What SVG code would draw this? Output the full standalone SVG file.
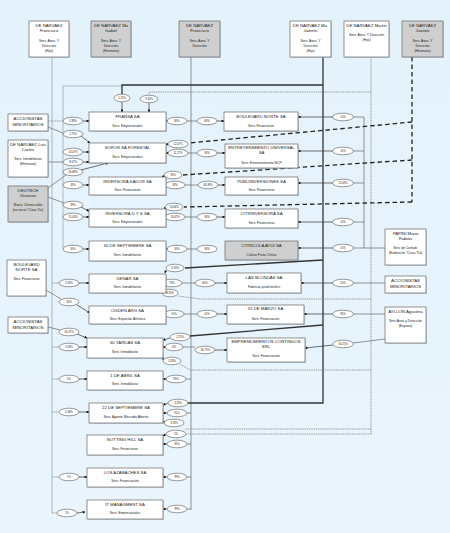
<svg xmlns="http://www.w3.org/2000/svg" width="450" height="533" viewBox="0 0 450 533">
<defs>
<marker id="ah" viewBox="0 0 10 10" refX="9" refY="5" markerWidth="4" markerHeight="4" orient="auto"><path d="M0,0 L10,5 L0,10 z" fill="#111"/></marker>
<linearGradient id="bg" x1="0" y1="0" x2="0" y2="1"><stop offset="0" stop-color="#e4f2fc"/><stop offset="1" stop-color="#eaf5fd"/></linearGradient>
</defs>
<style>
.b{fill:#fff;stroke:#666;stroke-width:0.7}
.g{fill:#cfcfcf;stroke:#666;stroke-width:0.7}
.sh{fill:#9fb3c6;opacity:0.5}
text{font-family:"Liberation Sans",Arial,sans-serif;fill:#222;text-anchor:middle}
.t{font-size:4.3px}
.s{font-size:3.4px}
.p{font-size:2.7px}
.e{fill:#fff;stroke:#555;stroke-width:0.6}
.thin{stroke:#777;stroke-width:0.8;fill:none}
.lt{stroke:#9aa8b8;stroke-width:0.8;fill:none}
.thick{stroke:#333;stroke-width:1.3;fill:none}
.dot{stroke:#777;stroke-width:0.8;stroke-dasharray:1 0.8;fill:none}
.dash{stroke:#222;stroke-width:1.3;stroke-dasharray:4.5 3;fill:none}
.arr{stroke:#333;stroke-width:0.7;fill:none;marker-end:url(#ah)}
</style>
<rect width="450" height="533" fill="url(#bg)"/>

<g id="connectors">
<path class="lt" d="M52,57 V513"/>
<path class="lt" d="M122,86 H63 V249"/>
<path class="thin" d="M191,57 V510"/>
<path class="dot" d="M371,57 V434 M371,92 H149 V95"/>
<path class="dash" d="M412,57 V202"/>
<path class="thin" d="M385,248 H364 V117"/>
<path class="thick" d="M323,57 V403 H188 M323,85 H122 V94"/>
<path class="dash" d="M412,122 L189,143"/>
<path class="dash" d="M412,160 L183,175"/>
<path class="dash" d="M412,202 L184,207"/>
<path class="thick" d="M323,260 L185,268"/>
<path class="thick" d="M323,325 L190,336"/>
<path class="dot" d="M371,299 H200 L178,296"/>
<path class="dot" d="M371,370 H190 L180,364"/>
<path class="dot" d="M371,429 H185"/>
<path class="dot" d="M371,434 H186"/>
<path class="thin" d="M187,121 H197 M188,153 H197 M185,185 H198 M185,217 H197 M187,249 H197 M182,283 H195 M184,314 H197 M182,347 H195 M186,379 H191 M187,413 H191 M187,444 H191 M187,477 H191 M187,509 H191"/>
<path class="thin" d="M364,117 H353 M364,151 H353 M364,183 H353 M364,222 H353 M364,248 H353"/>
<path class="thin" d="M385,283 H353 M385,314 H353 M385,339 L353,343"/>
<path class="dot" d="M48,121 H63"/>
<path class="thin" d="M48,127 L63,133"/>
<path class="thin" d="M48,162 H63"/>
<path class="thin" d="M48,188 L66,175"/>
<path class="thin" d="M48,197 L64,203"/>
<path class="thin" d="M46,290 L61,299"/>
<path class="thin" d="M48,327 L60,330"/>
<path class="dot" d="M52,283 H59 M52,347 H59 M52,379 H59 M52,412 H59 M52,477 H59 M52,513 H57"/>
<path class="arr" d="M83,121 H89"/>
<path class="arr" d="M81,136 L90,143"/>
<path class="arr" d="M83,152 H89"/>
<path class="arr" d="M83,162 H89"/>
<path class="arr" d="M81,170 L108,163"/>
<path class="arr" d="M83,185 H89"/>
<path class="arr" d="M81,207 L89,211"/>
<path class="arr" d="M83,217 H89"/>
<path class="arr" d="M83,249 H89"/>
<path class="arr" d="M79,283 H89"/>
<path class="arr" d="M77,305 L90,313"/>
<path class="arr" d="M77,334 L87,338"/>
<path class="arr" d="M79,347 H87"/>
<path class="arr" d="M79,379 H87"/>
<path class="arr" d="M79,412 H89"/>
<path class="arr" d="M79,477 H87"/>
<path class="arr" d="M77,513 L85,512"/>
<path class="arr" d="M122,102 V112"/>
<path class="arr" d="M149,103 V112"/>
<path class="arr" d="M167,121 H166"/>
<path class="arr" d="M217,121 H224"/>
<path class="arr" d="M168,144 L166,145"/>
<path class="arr" d="M168,153 H166"/>
<path class="arr" d="M217,153 H225"/>
<path class="arr" d="M164,176 L162,177"/>
<path class="arr" d="M165,185 H166"/>
<path class="arr" d="M218,185 H225"/>
<path class="arr" d="M165,208 L166,209"/>
<path class="arr" d="M165,217 H166"/>
<path class="arr" d="M217,217 H225"/>
<path class="arr" d="M167,249 H166"/>
<path class="arr" d="M166,270 L165,273"/>
<path class="arr" d="M162,283 H166"/>
<path class="arr" d="M215,283 H227"/>
<path class="arr" d="M163,292 L165,291"/>
<path class="arr" d="M164,314 H166"/>
<path class="arr" d="M217,314 H227"/>
<path class="arr" d="M170,338 L163,340"/>
<path class="arr" d="M164,347 H163"/>
<path class="arr" d="M215,350 H227"/>
<path class="arr" d="M163,359 L163,357"/>
<path class="arr" d="M166,379 H163"/>
<path class="arr" d="M168,403 L163,405"/>
<path class="arr" d="M167,413 H163"/>
<path class="arr" d="M164,422 L163,421"/>
<path class="arr" d="M166,434 L163,436"/>
<path class="arr" d="M167,444 H163"/>
<path class="arr" d="M167,477 H163"/>
<path class="arr" d="M167,509 H163"/>
<path class="arr" d="M333,117 H298"/>
<path class="arr" d="M333,151 H298"/>
<path class="arr" d="M333,183 H298"/>
<path class="arr" d="M333,222 H298"/>
<path class="arr" d="M333,248 H298"/>
<path class="arr" d="M333,283 H301"/>
<path class="arr" d="M333,314 H304"/>
<path class="arr" d="M333,345 L305,348"/>
</g>

<g id="labels">
<g><ellipse class="e" cx="73" cy="121" rx="10" ry="3.8"/><text class="p" x="73" y="122">3.38%</text></g>
<g><ellipse class="e" cx="73" cy="134" rx="10" ry="3.8"/><text class="p" x="73" y="135">1.75%</text></g>
<g><ellipse class="e" cx="73" cy="152" rx="10" ry="3.8"/><text class="p" x="73" y="153">14.07%</text></g>
<g><ellipse class="e" cx="73" cy="162" rx="10" ry="3.8"/><text class="p" x="73" y="163">8.67%</text></g>
<g><ellipse class="e" cx="73" cy="172" rx="10" ry="3.8"/><text class="p" x="73" y="173">46.88%</text></g>
<g><ellipse class="e" cx="73" cy="185" rx="10" ry="3.8"/><text class="p" x="73" y="186">34%</text></g>
<g><ellipse class="e" cx="73" cy="205" rx="10" ry="3.8"/><text class="p" x="73" y="206">39%</text></g>
<g><ellipse class="e" cx="73" cy="217" rx="10" ry="3.8"/><text class="p" x="73" y="218">15.63%</text></g>
<g><ellipse class="e" cx="73" cy="249" rx="10" ry="3.8"/><text class="p" x="73" y="250">30%</text></g>
<g><ellipse class="e" cx="69" cy="283" rx="10" ry="3.8"/><text class="p" x="69" y="284">5.33%</text></g>
<g><ellipse class="e" cx="69" cy="302" rx="10" ry="3.8"/><text class="p" x="69" y="303">30%</text></g>
<g><ellipse class="e" cx="69" cy="332" rx="10" ry="3.8"/><text class="p" x="69" y="333">40.27%</text></g>
<g><ellipse class="e" cx="69" cy="347" rx="10" ry="3.8"/><text class="p" x="69" y="348">3.28%</text></g>
<g><ellipse class="e" cx="69" cy="379" rx="10" ry="3.8"/><text class="p" x="69" y="380">5%</text></g>
<g><ellipse class="e" cx="69" cy="412" rx="10" ry="3.8"/><text class="p" x="69" y="413">5.38%</text></g>
<g><ellipse class="e" cx="69" cy="477" rx="10" ry="3.8"/><text class="p" x="69" y="478">1%</text></g>
<g><ellipse class="e" cx="67" cy="513" rx="10" ry="3.8"/><text class="p" x="67" y="514">1%</text></g>
<g><ellipse class="e" cx="122" cy="98" rx="8" ry="3.8"/><text class="p" x="122" y="99">1.11%</text></g>
<g><ellipse class="e" cx="149" cy="99" rx="9" ry="3.8"/><text class="p" x="149" y="100">3.33%</text></g>
<g><ellipse class="e" cx="177" cy="121" rx="10" ry="3.8"/><text class="p" x="177" y="122">80%</text></g>
<g><ellipse class="e" cx="207" cy="121" rx="10" ry="3.8"/><text class="p" x="207" y="122">80%</text></g>
<g><ellipse class="e" cx="178" cy="144" rx="10" ry="3.8"/><text class="p" x="178" y="145">12.07%</text></g>
<g><ellipse class="e" cx="178" cy="153" rx="10" ry="3.8"/><text class="p" x="178" y="154">11.27%</text></g>
<g><ellipse class="e" cx="207" cy="153" rx="10" ry="3.8"/><text class="p" x="207" y="154">90%</text></g>
<g><ellipse class="e" cx="173" cy="175" rx="9" ry="3.8"/><text class="p" x="173" y="176">33%</text></g>
<g><ellipse class="e" cx="175" cy="185" rx="10" ry="3.8"/><text class="p" x="175" y="186">33%</text></g>
<g><ellipse class="e" cx="208" cy="185" rx="10" ry="3.8"/><text class="p" x="208" y="186">84.38%</text></g>
<g><ellipse class="e" cx="174" cy="207" rx="9" ry="3.8"/><text class="p" x="174" y="208">16.66%</text></g>
<g><ellipse class="e" cx="175" cy="217" rx="10" ry="3.8"/><text class="p" x="175" y="218">16.67%</text></g>
<g><ellipse class="e" cx="207" cy="217" rx="10" ry="3.8"/><text class="p" x="207" y="218">90%</text></g>
<g><ellipse class="e" cx="177" cy="249" rx="10" ry="3.8"/><text class="p" x="177" y="250">30%</text></g>
<g><ellipse class="e" cx="207" cy="249" rx="10" ry="3.8"/><text class="p" x="207" y="250">90%</text></g>
<g><ellipse class="e" cx="175" cy="268" rx="9" ry="3.8"/><text class="p" x="175" y="269">5.33%</text></g>
<g><ellipse class="e" cx="172" cy="283" rx="10" ry="3.8"/><text class="p" x="172" y="284">76%</text></g>
<g><ellipse class="e" cx="205" cy="283" rx="10" ry="3.8"/><text class="p" x="205" y="284">80%</text></g>
<g><ellipse class="e" cx="170" cy="293" rx="8" ry="3.8"/><text class="p" x="170" y="294">8.33%</text></g>
<g><ellipse class="e" cx="174" cy="314" rx="10" ry="3.8"/><text class="p" x="174" y="315">10%</text></g>
<g><ellipse class="e" cx="207" cy="314" rx="10" ry="3.8"/><text class="p" x="207" y="315">10%</text></g>
<g><ellipse class="e" cx="180" cy="337" rx="10" ry="3.8"/><text class="p" x="180" y="338">2.25%</text></g>
<g><ellipse class="e" cx="174" cy="347" rx="9" ry="3.8"/><text class="p" x="174" y="348">6%</text></g>
<g><ellipse class="e" cx="205" cy="350" rx="10" ry="3.8"/><text class="p" x="205" y="351">36.75%</text></g>
<g><ellipse class="e" cx="172" cy="361" rx="9" ry="3.8"/><text class="p" x="172" y="362">3.28%</text></g>
<g><ellipse class="e" cx="176" cy="379" rx="10" ry="3.8"/><text class="p" x="176" y="380">95%</text></g>
<g><ellipse class="e" cx="178" cy="403" rx="10" ry="3.8"/><text class="p" x="178" y="404">3.33%</text></g>
<g><ellipse class="e" cx="177" cy="413" rx="10" ry="3.8"/><text class="p" x="177" y="414">91%</text></g>
<g><ellipse class="e" cx="174" cy="423" rx="10" ry="3.8"/><text class="p" x="174" y="424">3.33%</text></g>
<g><ellipse class="e" cx="176" cy="434" rx="10" ry="3.8"/><text class="p" x="176" y="435">5%</text></g>
<g><ellipse class="e" cx="177" cy="444" rx="10" ry="3.8"/><text class="p" x="177" y="445">95%</text></g>
<g><ellipse class="e" cx="177" cy="477" rx="10" ry="3.8"/><text class="p" x="177" y="478">99%</text></g>
<g><ellipse class="e" cx="177" cy="509" rx="10" ry="3.8"/><text class="p" x="177" y="510">99%</text></g>
<g><ellipse class="e" cx="343" cy="117" rx="10.5" ry="3.8"/><text class="p" x="343" y="118">10%</text></g>
<g><ellipse class="e" cx="343" cy="151" rx="10.5" ry="3.8"/><text class="p" x="343" y="152">10%</text></g>
<g><ellipse class="e" cx="343" cy="183" rx="10.5" ry="3.8"/><text class="p" x="343" y="184">15.63%</text></g>
<g><ellipse class="e" cx="343" cy="222" rx="10.5" ry="3.8"/><text class="p" x="343" y="223">10%</text></g>
<g><ellipse class="e" cx="343" cy="248" rx="10.5" ry="3.8"/><text class="p" x="343" y="249">10%</text></g>
<g><ellipse class="e" cx="343" cy="283" rx="10.5" ry="3.8"/><text class="p" x="343" y="284">20%</text></g>
<g><ellipse class="e" cx="343" cy="314" rx="10.5" ry="3.8"/><text class="p" x="343" y="315">90%</text></g>
<g><ellipse class="e" cx="343" cy="344" rx="10.5" ry="3.8"/><text class="p" x="343" y="345">63.25%</text></g>
</g>

<g id="n_francisco_hijo"><rect class="sh" x="30" y="22" width="40" height="36"/><rect class="b" x="29" y="21" width="40" height="36"/><text class="t" x="49" y="27">DE NARVAEZ</text><text class="t" x="49" y="32">Francisco</text><text class="s" x="49" y="42">Serv. Ases. Y</text><text class="s" x="49" y="47">Dirección</text><text class="s" x="49" y="52">(Hijo)</text></g>
<g id="n_ma_isabel"><rect class="sh" x="92" y="22" width="40" height="36"/><rect class="g" x="91" y="21" width="40" height="36"/><text class="t" x="111" y="27">DE NARVAEZ  Ma</text><text class="t" x="111" y="32">Isabel</text><text class="s" x="111" y="42">Serv. Ases. Y</text><text class="s" x="111" y="47">Dirección</text><text class="s" x="111" y="52">(Hermana)</text></g>
<g id="n_francisco"><rect class="sh" x="180" y="22" width="41" height="36"/><rect class="g" x="179" y="21" width="41" height="36"/><text class="t" x="199.5" y="27">DE NARVAEZ</text><text class="t" x="199.5" y="32">Francisco</text><text class="s" x="199.5" y="42">Serv. Ases. Y</text><text class="s" x="199.5" y="47">Dirección</text></g>
<g id="n_jazmin"><rect class="sh" x="291" y="22" width="41" height="36"/><rect class="b" x="290" y="21" width="41" height="36"/><text class="t" x="310.5" y="27">DE NARVAEZ Ma.</text><text class="t" x="310.5" y="32">Jazmín</text><text class="s" x="310.5" y="42">Serv. Ases. Y</text><text class="s" x="310.5" y="47">Dirección</text><text class="s" x="310.5" y="52">(Hijo)</text></g>
<g id="n_martin"><rect class="sh" x="345" y="22" width="45" height="36"/><rect class="b" x="344" y="21" width="45" height="36"/><text class="t" x="366.5" y="27">DE NARVAEZ Martín</text><text class="s" x="366.5" y="36">Serv. Ases. Y Dirección</text><text class="s" x="366.5" y="41">(Hijo)</text></g>
<g id="n_juanito"><rect class="sh" x="403" y="22" width="41" height="36"/><rect class="g" x="402" y="21" width="41" height="36"/><text class="t" x="422.5" y="27">DE NARVAEZ</text><text class="t" x="422.5" y="32">Juanito</text><text class="s" x="422.5" y="42">Serv. Ases. Y</text><text class="s" x="422.5" y="47">Dirección</text><text class="s" x="422.5" y="52">(Hermana)</text></g>

<g id="n_acc_min1"><rect class="sh" x="9" y="115" width="40" height="17"/><rect class="b" x="8" y="114" width="40" height="17"/><text class="t" x="28" y="120">ACCIONISTAS</text><text class="t" x="28" y="126">MINORITARIOS</text></g>
<g id="n_luis"><rect class="sh" x="9" y="141" width="40" height="37"/><rect class="b" x="8" y="140" width="40" height="37"/><text class="t" x="28" y="146">DE NARVAEZ Luis</text><text class="t" x="28" y="151">Carlos</text><text class="s" x="28" y="160">Serv. Inmobiliarios</text><text class="s" x="28" y="165">(Hermano)</text></g>
<g id="n_deutsch"><rect class="sh" x="9" y="187" width="40" height="36"/><rect class="g" x="8" y="186" width="40" height="36"/><text class="t" x="28" y="192">DEUTSCH</text><text class="t" x="28" y="197">Gustavo</text><text class="t" x="28" y="206">Serv. Dirección</text><text class="s" x="28" y="211">(ex socio "Casa Tía)</text></g>
<g id="n_boulevard_left"><rect class="sh" x="8" y="261" width="39" height="36"/><rect class="b" x="7" y="260" width="39" height="36"/><text class="t" x="26.5" y="266">BOULEVARD</text><text class="t" x="26.5" y="271">NORTE SA</text><text class="s" x="26.5" y="280">Serv. Financieros</text></g>
<g id="n_acc_min2"><rect class="sh" x="9" y="318" width="40" height="16"/><rect class="b" x="8" y="317" width="40" height="16"/><text class="t" x="28" y="323">ACCIONISTAS</text><text class="t" x="28" y="328.5">MINORITARIOS</text></g>

<g id="n_fransa"><rect class="sh" x="90" y="113" width="77" height="19"/><rect class="b" x="89" y="112" width="77" height="19"/><text class="t" x="127.5" y="118">FRANSA SA</text><text class="s" x="127.5" y="127">Serv. Empresariales</text></g>
<g id="n_sofor"><rect class="sh" x="90" y="144" width="77" height="20"/><rect class="b" x="89" y="143" width="77" height="20"/><text class="t" x="127.5" y="149">SOFOR SA FORESTAL</text><text class="s" x="127.5" y="158">Serv. Empresariales</text></g>
<g id="n_kador"><rect class="sh" x="90" y="178" width="77" height="18"/><rect class="b" x="89" y="177" width="77" height="18"/><text class="t" x="127.5" y="182.5">INVERSORA KADOR SA</text><text class="s" x="127.5" y="191">Serv. Financieros</text></g>
<g id="n_dys"><rect class="sh" x="90" y="210" width="77" height="18"/><rect class="b" x="89" y="209" width="77" height="18"/><text class="t" x="127.5" y="214.5">INVERSORA D Y S  SA</text><text class="s" x="127.5" y="223">Serv. Empresariales</text></g>
<g id="n_sept30"><rect class="sh" x="90" y="242" width="77" height="20"/><rect class="b" x="89" y="241" width="77" height="20"/><text class="t" x="127.5" y="247">30 DE SEPTIEMBRE  SA</text><text class="s" x="127.5" y="256">Serv. Inmobiliarios</text></g>
<g id="n_denar"><rect class="sh" x="90" y="275" width="77" height="19"/><rect class="b" x="89" y="274" width="77" height="19"/><text class="t" x="127.5" y="279.5">DENAR SA</text><text class="s" x="127.5" y="288">Serv. Inmobiliarios</text></g>
<g id="n_ogden"><rect class="sh" x="90" y="307" width="77" height="18"/><rect class="b" x="89" y="306" width="77" height="18"/><text class="t" x="127.5" y="311.5">OGDEN ARG SA</text><text class="s" x="127.5" y="320">Serv. Espectác Artístico</text></g>
<g id="n_yardas"><rect class="sh" x="88" y="339" width="76" height="20"/><rect class="b" x="87" y="338" width="76" height="20"/><text class="t" x="125" y="344">60 YARDAS SA</text><text class="s" x="125" y="353">Serv. Inmobiliario</text></g>
<g id="n_abril"><rect class="sh" x="88" y="372" width="76" height="19"/><rect class="b" x="87" y="371" width="76" height="19"/><text class="t" x="125" y="376.5">1 DE ABRIL SA</text><text class="s" x="125" y="385">Serv. Inmobiliario</text></g>
<g id="n_sept22"><rect class="sh" x="90" y="404" width="74" height="20"/><rect class="b" x="89" y="403" width="74" height="20"/><text class="t" x="126" y="408.5">22 DE SEPTIEMBRE SA</text><text class="s" x="126" y="417.5">Serv. Agente Mercado Abierto</text></g>
<g id="n_notting"><rect class="sh" x="88" y="436" width="76" height="20"/><rect class="b" x="87" y="435" width="76" height="20"/><text class="t" x="125" y="440.5">NOTTING HILL SA</text><text class="s" x="125" y="450">Serv. Financieros</text></g>
<g id="n_azabaches"><rect class="sh" x="88" y="469" width="76" height="19"/><rect class="b" x="87" y="468" width="76" height="19"/><text class="t" x="125" y="473.5">LOS AZABACHES SA</text><text class="s" x="125" y="482">Serv. Financiación</text></g>
<g id="n_itm"><rect class="sh" x="88" y="501" width="76" height="19"/><rect class="b" x="87" y="500" width="76" height="19"/><text class="t" x="125" y="505.5">IT MANAGMENT SA</text><text class="s" x="125" y="514">Serv. Empresariales</text></g>

<g id="n_boulevard"><rect class="sh" x="225" y="113" width="74" height="19"/><rect class="b" x="224" y="112" width="74" height="19"/><text class="t" x="261" y="117.5">BOULEVARD NORTE SA</text><text class="s" x="261" y="126.5">Serv. Financieros</text></g>
<g id="n_entret"><rect class="sh" x="226" y="145" width="73" height="24"/><rect class="b" x="225" y="144" width="73" height="24"/><text class="t" x="261.5" y="149">ENTRETENIMIENTO UNIVERSAL</text><text class="t" x="261.5" y="154">SA</text><text class="s" x="261.5" y="163.5">Serv. Entretenimiento NCP</text></g>
<g id="n_publi"><rect class="sh" x="226" y="178" width="73" height="18"/><rect class="b" x="225" y="177" width="73" height="18"/><text class="t" x="261.5" y="182.5">PUBLIINVERSIONES SA</text><text class="s" x="261.5" y="191">Serv. Financieros</text></g>
<g id="n_citrinv"><rect class="sh" x="226" y="210" width="73" height="19"/><rect class="b" x="225" y="209" width="73" height="19"/><text class="t" x="261.5" y="214.5">CITRINVERSORA SA</text><text class="s" x="261.5" y="223.5">Serv. Financieras</text></g>
<g id="n_citricola"><rect class="sh" x="226" y="242" width="73" height="19"/><rect class="g" x="225" y="241" width="73" height="19"/><text class="t" x="261.5" y="246.5">CITRICOLA AYUI SA</text><text class="s" x="261.5" y="255.5">Cultivo Fruta Cítrica</text></g>
<g id="n_blondas"><rect class="sh" x="228" y="274" width="74" height="20"/><rect class="b" x="227" y="273" width="74" height="20"/><text class="t" x="264" y="278.5">LAS BLONDAS SA</text><text class="s" x="264" y="288">Fabricac.prod.textiles</text></g>
<g id="n_marzo"><rect class="sh" x="228" y="306" width="77" height="19"/><rect class="b" x="227" y="305" width="77" height="19"/><text class="t" x="265.5" y="310">15 DE MARZO SA</text><text class="s" x="265.5" y="319.5">Serv. Financiación</text></g>
<g id="n_empren"><rect class="sh" x="228" y="339" width="78" height="24"/><rect class="b" x="227" y="338" width="78" height="24"/><text class="t" x="266" y="343">EMPRENDIMIENTOS CONTINUOS</text><text class="t" x="266" y="348">SRL</text><text class="s" x="266" y="357">Serv. Financiación</text></g>

<g id="n_papini"><rect class="sh" x="386" y="230" width="41" height="36"/><rect class="b" x="385" y="229" width="41" height="36"/><text class="t" x="405.5" y="235">PAPINI Mario</text><text class="t" x="405.5" y="240">Fabián</text><text class="s" x="405.5" y="249">Serv de Contab.</text><text class="s" x="405.5" y="253.5">(Exdirector "Casa Tía)</text></g>
<g id="n_acc_min3"><rect class="sh" x="386" y="277" width="41" height="17"/><rect class="b" x="385" y="276" width="41" height="17"/><text class="t" x="405.5" y="282">ACCIONISTAS</text><text class="t" x="405.5" y="287.5">MINORITARIOS</text></g>
<g id="n_ayllon"><rect class="sh" x="386" y="308" width="41" height="36"/><rect class="b" x="385" y="307" width="41" height="36"/><text class="t" x="405.5" y="313">AYLLON Agustina</text><text class="s" x="405.5" y="322">Serv Ases y Dirección</text><text class="s" x="405.5" y="326.5">(Esposa)</text></g>
</svg>
